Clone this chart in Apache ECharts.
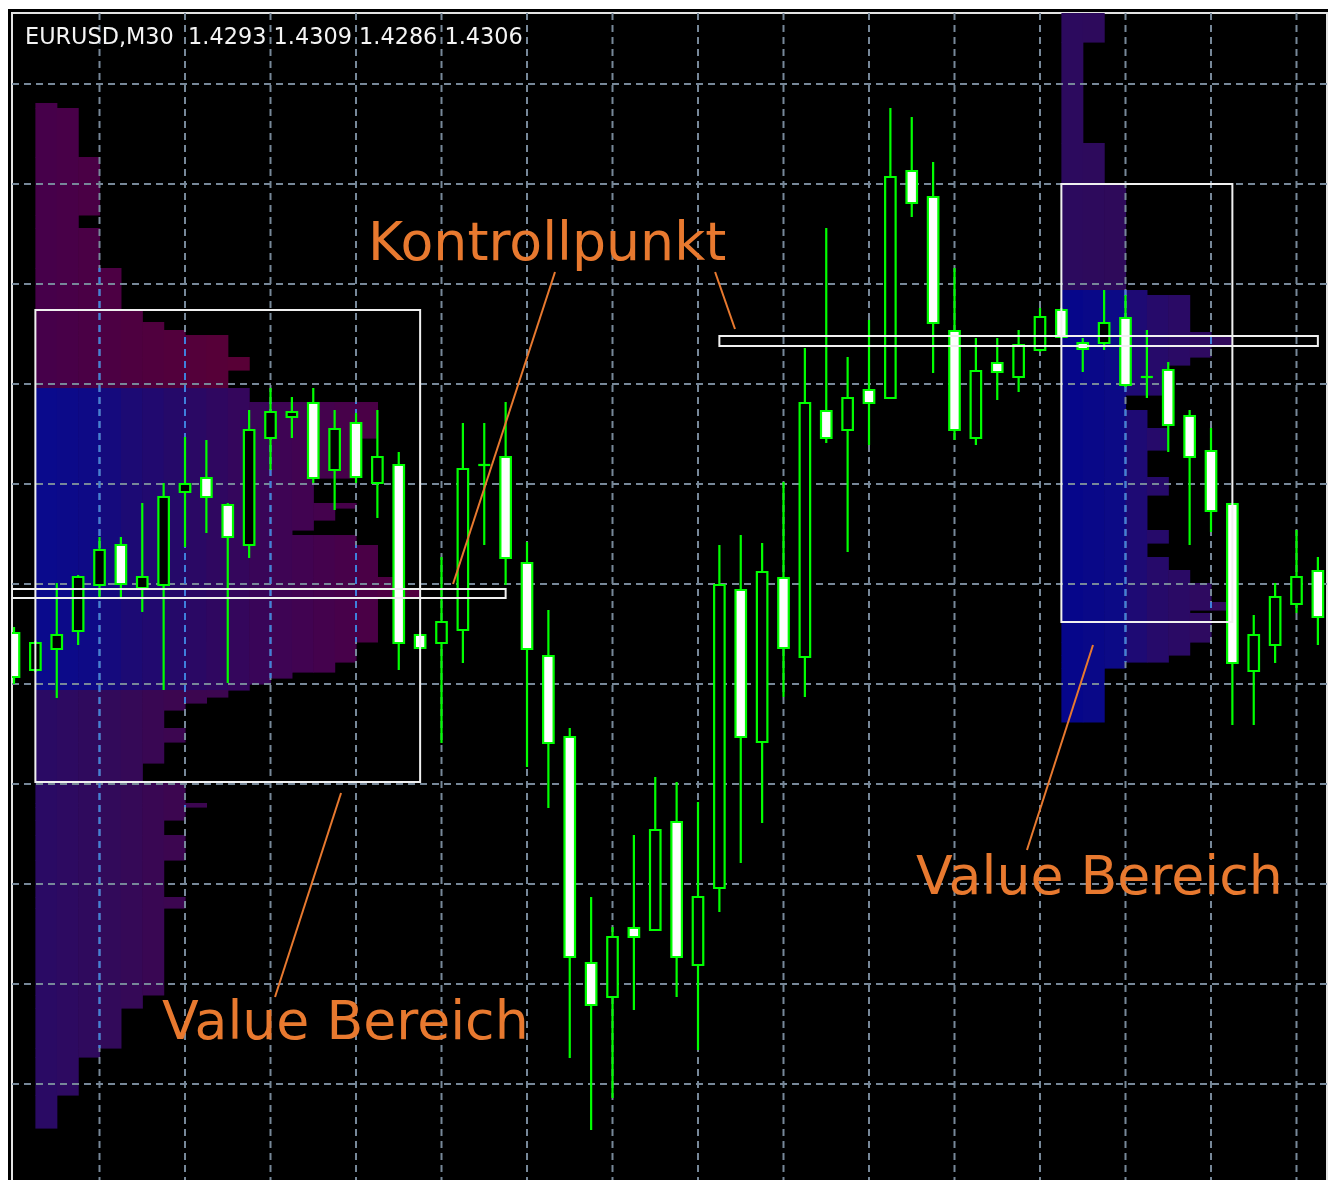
<!DOCTYPE html>
<html>
<head>
<meta charset="utf-8">
<script src="https://cdn.jsdelivr.net/npm/echarts@6/dist/echarts.min.js"></script>
<style>
html,body{margin:0;padding:0;background:#ffffff;overflow:hidden}
#chart{width:1338px;height:1180px}
</style>
</head>
<body>
<div id="chart"></div>
<script>
// ---------------- data ----------------
const symbolTitle = 'EURUSD,M30  1.4293 1.4309 1.4286 1.4306';

// candle index 0..61 (M30 bars)
const opens = [1.42951,1.42914,1.42935,1.42953,1.42999,1.43039,1.42996,1.42999,1.43092,1.43106,
  1.43079,1.43039,1.43146,1.43167,1.43181,1.43114,1.43161,1.43101,1.43119,1.42949,
  1.42941,1.42954,1.43119,1.43127,1.43021,1.42928,1.42847,1.42621,1.42587,1.42656,
  1.42654,1.42762,1.42619,1.42696,1.42994,1.42842,1.43006,1.42927,1.43173,1.43154,
  1.43194,1.43186,1.43413,1.43387,1.43253,1.43146,1.43221,1.43207,1.43234,1.43274,
  1.43241,1.43241,1.43266,1.43207,1.43214,1.43168,1.43133,1.43080,1.42913,1.42939,
  1.42980,1.43013];
const highs = [1.42957,1.42943,1.43001,1.43009,1.43047,1.43047,1.43081,1.43101,1.43147,1.43144,
  1.43081,1.43174,1.43196,1.43187,1.43196,1.43174,1.43171,1.43174,1.43132,1.42950,
  1.43027,1.43161,1.43161,1.43182,1.43042,1.42974,1.42856,1.42687,1.42657,1.42749,
  1.42807,1.42802,1.42782,1.43039,1.43049,1.43041,1.43102,1.43236,1.43356,1.43227,
  1.43264,1.43476,1.43467,1.43422,1.43316,1.43246,1.43246,1.43254,1.43276,1.43276,
  1.43246,1.43294,1.43289,1.43254,1.43222,1.43174,1.43156,1.43081,1.42969,1.43001,
  1.43054,1.43027];
const lows = [1.42900,1.42912,1.42886,1.42939,1.42987,1.42987,1.42972,1.42894,1.43037,1.43051,
  1.42901,1.43026,1.43114,1.43146,1.43101,1.43074,1.43101,1.43066,1.42914,1.42935,
  1.42841,1.42921,1.43039,1.42999,1.42817,1.42776,1.42526,1.42454,1.42486,1.42574,
  1.42653,1.42587,1.42534,1.42672,1.42721,1.42761,1.42887,1.42887,1.43141,1.43032,
  1.43139,1.43185,1.43367,1.43211,1.43144,1.43139,1.43184,1.43192,1.43232,1.43246,
  1.43212,1.43234,1.43197,1.43186,1.43132,1.43039,1.43052,1.42859,1.42859,1.42921,
  1.42971,1.42939];
const closes = [1.42907,1.42941,1.42949,1.43007,1.43034,1.43000,1.43007,1.43087,1.43100,1.43087,
  1.43047,1.43154,1.43172,1.43172,1.43106,1.43155,1.43107,1.43127,1.42941,1.42936,
  1.42962,1.43115,1.43119,1.43026,1.42935,1.42841,1.42627,1.42579,1.42647,1.42647,
  1.42754,1.42627,1.42687,1.42999,1.42847,1.43012,1.42936,1.43181,1.43146,1.43186,
  1.43181,1.43407,1.43381,1.43261,1.43154,1.43213,1.43212,1.43239,1.43267,1.43247,
  1.43235,1.43261,1.43199,1.43207,1.43159,1.43127,1.43073,1.42921,1.42949,1.42987,
  1.43007,1.42967];

// grid tick positions (bar index / price)
const gridXTicks = [4,8,12,16,20,24,28,32,36,40,44,48,52,56,60];
const gridYTicks = [1.425,1.426,1.427,1.428,1.429,1.430,1.431,1.432,1.433,1.434,1.435];

// market profile: [priceTop, priceBottom, TPO count], starting at a bar index
const leftProfileStart = 1;
const leftProfileRows = [
  [1.43481,1.43476,1],[1.43476,1.43427,2],[1.43427,1.43369,3],[1.43369,1.43356,2],
  [1.43356,1.43316,3],[1.43316,1.43274,4],[1.43274,1.43262,5],[1.43262,1.43254,6],
  [1.43254,1.43249,7],[1.43249,1.43227,9],[1.43227,1.43214,10],[1.43214,1.43196,9],
  [1.43196,1.43182,10],[1.43182,1.43146,16],[1.43146,1.43106,15],[1.43106,1.43081,13],
  [1.43081,1.43076,15],[1.43076,1.43064,14],[1.43064,1.43054,13],[1.43054,1.43049,12],
  [1.43049,1.43039,15],[1.43039,1.43007,16],[1.43007,1.42996,17],[1.42996,1.42986,18],
  [1.42986,1.42942,16],[1.42942,1.42922,15],[1.42922,1.42912,14],[1.42912,1.42906,12],
  [1.42906,1.42900,11],[1.42900,1.42894,10],[1.42894,1.42887,9],[1.42887,1.42881,8],
  [1.42881,1.42874,7],[1.42874,1.42856,6],[1.42856,1.42842,7],[1.42842,1.42821,6],
  [1.42821,1.42802,5],[1.42802,1.42781,7],[1.42781,1.42777,8],[1.42777,1.42764,7],
  [1.42764,1.42749,6],[1.42749,1.42724,7],[1.42724,1.42687,6],[1.42687,1.42676,7],
  [1.42676,1.42589,6],[1.42589,1.42576,5],[1.42576,1.42536,4],[1.42536,1.42527,3],
  [1.42527,1.42489,2],[1.42489,1.42456,1]
];
const rightProfileStart = 49;
const rightProfileRows = [
  [1.43571,1.43542,2],[1.43542,1.43441,1],[1.43441,1.43400,2],[1.43400,1.43294,3],
  [1.43294,1.43289,4],[1.43289,1.43252,6],[1.43252,1.43248,7],[1.43248,1.43238,8],
  [1.43238,1.43227,7],[1.43227,1.43219,6],[1.43219,1.43189,5],[1.43189,1.43174,3],
  [1.43174,1.43156,4],[1.43156,1.43134,5],[1.43134,1.43107,4],[1.43107,1.43089,5],
  [1.43089,1.43054,4],[1.43054,1.43041,5],[1.43041,1.43027,4],[1.43027,1.43014,5],
  [1.43014,1.43001,6],[1.43001,1.42982,7],[1.42982,1.42974,8],[1.42974,1.42971,6],
  [1.42971,1.42942,7],[1.42942,1.42929,6],[1.42929,1.42922,5],[1.42922,1.42916,3],
  [1.42916,1.42862,2]
];

// value areas: [barFrom, barTo, priceHigh, priceLow]
const valueAreas = [[1,19,1.43274,1.42802],[49,57,1.43400,1.42962]];
// point of control bands: [barFrom, barTo, priceHigh, priceLow]
const pocBands = [[-0.094,23,1.42995,1.42986],[33,61,1.43248,1.43238]];

// annotations
const annotationLabels = ['Kontrollpunkt','Value Bereich','Value Bereich'];
const annotationAnchors = [[16.56,1.43338],[6.92,1.42559],[42.2,1.42704]];
const leaderLines = [
  [25.31,1.43312,20.54,1.43000],
  [32.80,1.43312,33.73,1.43255],
  [15.30,1.42791,12.21,1.42587],
  [50.48,1.42939,47.39,1.42734]
];

// ---------------- styles ----------------
const leftProfileColors = [
  {minPrice: 1.43196, stops: [[0,'#46004a'],[4,'#4e0040'],[9,'#580036']]},
  {minPrice: 1.42894, stops: [[0,'#0a0a8c'],[2,'#0e0a86'],[4,'#1c0a74'],[7,'#2a0864'],[11,'#3e0454'],[15,'#4a0046'],[17,'#520040']]},
  {minPrice: -Infinity, stops: [[0,'#2a0a64'],[3,'#320a5a'],[6,'#3c0650']]}
];
const rightProfileColors = [
  {minPrice: 1.43294, stops: [[0,'#2c0a5e'],[2,'#2e0a5a']]},
  {minPrice: -Infinity, stops: [[0,'#06068a'],[2,'#0c0a86'],[3,'#1e0a74'],[4,'#260a6a'],[6,'#2e0a60'],[7,'#320a5c']]}
];
const GRID_COLOR = '#778899';
const GRID_TINT = '#3f7fdc';
const DASH = [7,5];
const DASH_PERIOD = 12;
const CANDLE_COLOR = '#00ff00';
const NOTE_COLOR = '#e8792f';

function hexToRgb(h){return [parseInt(h.slice(1,3),16),parseInt(h.slice(3,5),16),parseInt(h.slice(5,7),16)];}
function colorAt(stops, j){
  if (j <= stops[0][0]) return stops[0][1];
  for (let k = 1; k < stops.length; k++) {
    if (j <= stops[k][0]) {
      const a = hexToRgb(stops[k-1][1]), b = hexToRgb(stops[k][1]);
      const t = (j - stops[k-1][0]) / (stops[k][0] - stops[k-1][0]);
      return 'rgb(' + a.map((v,i)=>Math.round(v + (b[i]-v)*t)).join(',') + ')';
    }
  }
  return stops[stops.length-1][1];
}

function profileSeries(rows, start, bands) {
  return [{
    type: 'custom', z: 1, clip: true, silent: true,
    data: rows, encode: {x: 2, y: [0,1]},
    renderItem(params, api) {
      const top = api.value(0), bot = api.value(1), n = api.value(2);
      const mid = (top + bot) / 2;
      const band = bands.find(b => mid > b.minPrice);
      const children = [];
      for (let j = 0; j < n; j++) {
        const a = api.coord([start + j, top]);
        const b = api.coord([start + j + 1, bot]);
        children.push({type: 'rect', shape: {x: a[0], y: a[1], width: b[0]-a[0]+0.6, height: b[1]-a[1]+0.6},
          style: {fill: colorAt(band.stops, j)}});
      }
      return {type: 'group', children};
    }
  }, {
    type: 'custom', z: 3, clip: true, silent: true,
    data: rows, encode: {x: 2, y: [0,1]},
    renderItem(params, api) {
      const top = api.value(0), bot = api.value(1), n = api.value(2);
      const cs = params.coordSys;
      const children = [];
      gridXTicks.forEach(gx => {
        if (gx > start && gx < start + n) {
          const a = api.coord([gx, top]), b = api.coord([gx, bot]);
          children.push({type: 'line', shape: {x1: a[0], y1: a[1], x2: b[0], y2: b[1]},
            style: {stroke: GRID_TINT, lineWidth: 2, lineDash: DASH, lineDashOffset: (a[1] - cs.y) % DASH_PERIOD}});
        }
      });
      return {type: 'group', children};
    }
  }];
}

const Y_MIN = 1.42398, Y_MAX = 1.43571, X_MIN = -0.094, X_MAX = 61.427;

const option = {
  backgroundColor: '#ffffff',
  animation: false,
  title: {
    text: symbolTitle, left: 20, top: 22,
    textStyle: {color: '#f4f4f4', fontSize: 22.4, fontWeight: 'normal', fontFamily: 'DejaVu Sans'}
  },
  graphic: [{type: 'rect', z: -10, silent: true, shape: {x: 8, y: 9, width: 1320, height: 1180}, style: {fill: '#000000'}}],
  grid: {left: 12, top: 13, width: 1315, height: 1173, outerBoundsMode: 'none', containLabel: false,
    show: true, backgroundColor: 'transparent', borderColor: '#e4e4e4', borderWidth: 2},
  xAxis: {type: 'value', min: X_MIN, max: X_MAX, show: false},
  yAxis: {type: 'value', min: Y_MIN, max: Y_MAX, show: false, scale: true},
  series: [
    ...profileSeries(leftProfileRows, leftProfileStart, leftProfileColors),
    ...profileSeries(rightProfileRows, rightProfileStart, rightProfileColors),
    { // vertical grid
      type: 'custom', z: 2, silent: true,
      data: gridXTicks.map(v => [v, Y_MIN]), encode: {x: 0, y: 1},
      renderItem(params, api) {
        const x = api.coord([api.value(0), api.value(1)])[0];
        const cs = params.coordSys;
        return {type: 'line', shape: {x1: x, y1: cs.y, x2: x, y2: cs.y + cs.height},
          style: {stroke: GRID_COLOR, lineWidth: 2, lineDash: DASH}};
      }
    },
    { // horizontal grid
      type: 'custom', z: 2, silent: true,
      data: gridYTicks.map(v => [X_MIN, v]), encode: {x: 0, y: 1},
      renderItem(params, api) {
        const y = api.coord([api.value(0), api.value(1)])[1];
        const cs = params.coordSys;
        return {type: 'line', shape: {x1: cs.x, y1: y, x2: cs.x + cs.width, y2: y},
          style: {stroke: GRID_COLOR, lineWidth: 2, lineDash: DASH}};
      }
    },
    { // candles
      type: 'custom', name: 'EURUSD,M30', z: 4, clip: true, silent: true,
      data: opens.map((o, i) => [i, o, highs[i], lows[i], closes[i]]),
      encode: {x: 0, y: [1,2,3,4]},
      renderItem(params, api) {
        const i = api.value(0), o = api.value(1), h = api.value(2), l = api.value(3), c = api.value(4);
        const pO = api.coord([i, o]), pC = api.coord([i, c]), pH = api.coord([i, h]), pL = api.coord([i, l]);
        const x = pO[0];
        const children = [{type: 'line', shape: {x1: x, y1: pH[1], x2: x, y2: pL[1]}, style: {stroke: CANDLE_COLOR, lineWidth: 2.2}}];
        if (Math.abs(o - c) < 1e-9) {
          children.push({type: 'line', shape: {x1: x - 6, y1: pO[1], x2: x + 6, y2: pO[1]}, style: {stroke: CANDLE_COLOR, lineWidth: 2.2}});
        } else {
          const yTop = Math.min(pO[1], pC[1]), yBot = Math.max(pO[1], pC[1]);
          children.push({type: 'rect', shape: {x: x - 5.25, y: yTop, width: 10.5, height: yBot - yTop},
            style: {fill: c < o ? '#ffffff' : '#000000', stroke: CANDLE_COLOR, lineWidth: 2.2}});
        }
        return {type: 'group', children};
      }
    },
    { // value area boxes
      type: 'custom', z: 5, clip: true, silent: true,
      data: valueAreas, encode: {x: [0,1], y: [2,3]},
      renderItem(params, api) {
        const a = api.coord([api.value(0), api.value(2)]), b = api.coord([api.value(1), api.value(3)]);
        return {type: 'rect', shape: {x: a[0], y: a[1], width: b[0]-a[0], height: b[1]-a[1]},
          style: {fill: 'none', stroke: '#f0f0f0', lineWidth: 2}};
      }
    },
    { // POC bands
      type: 'custom', z: 5, clip: true, silent: true,
      data: pocBands, encode: {x: [0,1], y: [2,3]},
      renderItem(params, api) {
        const a = api.coord([api.value(0), api.value(2)]), b = api.coord([api.value(1), api.value(3)]);
        return {type: 'rect', shape: {x: a[0], y: a[1], width: b[0]-a[0], height: b[1]-a[1]},
          style: {fill: 'none', stroke: '#f0f0f0', lineWidth: 2}};
      }
    },
    { // leader lines
      type: 'custom', z: 6, silent: true,
      data: leaderLines, encode: {x: [0,2], y: [1,3]},
      renderItem(params, api) {
        const a = api.coord([api.value(0), api.value(1)]), b = api.coord([api.value(2), api.value(3)]);
        return {type: 'line', shape: {x1: a[0], y1: a[1], x2: b[0], y2: b[1]},
          style: {stroke: NOTE_COLOR, lineWidth: 2}};
      }
    },
    { // annotation texts
      type: 'custom', z: 7, silent: true,
      data: annotationAnchors, encode: {x: 0, y: 1},
      renderItem(params, api) {
        const p = api.coord([api.value(0), api.value(1)]);
        return {type: 'text', x: p[0], y: p[1],
          style: {text: annotationLabels[params.dataIndex], fill: NOTE_COLOR, fontSize: 53.7,
            fontFamily: 'DejaVu Sans', align: 'left', verticalAlign: 'middle'}};
      }
    }
  ]
};

const chart = echarts.init(document.getElementById('chart'), null, {renderer: 'canvas'});
chart.setOption(option);
</script>
</body>
</html>
